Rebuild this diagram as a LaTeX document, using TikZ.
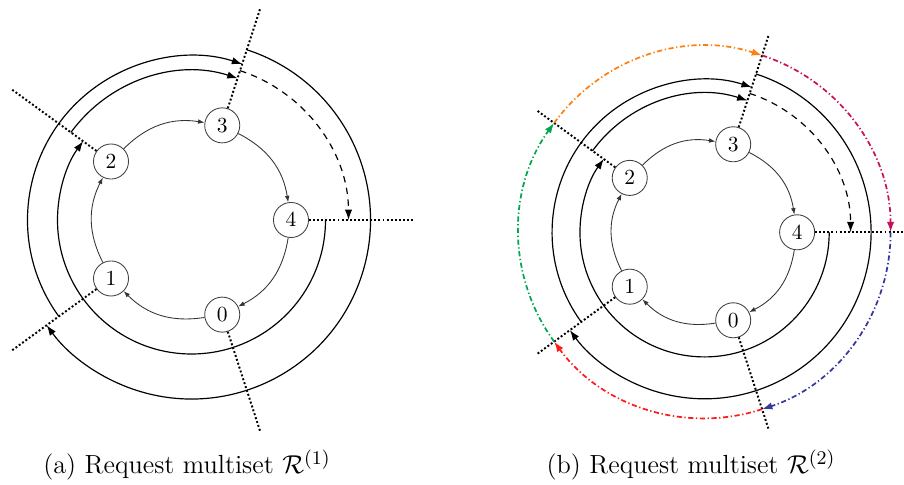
\documentclass[tikz,border=0pt]{standalone}
\usetikzlibrary{arrows.meta}
\definecolor{cOrange}{RGB}{255,127,14}
\definecolor{cPurple}{RGB}{200,16,90}
\definecolor{cBlue}{RGB}{55,55,160}
\definecolor{cRed}{RGB}{255,25,25}
\definecolor{cGreen}{RGB}{0,166,80}
\tikzset{
  ringnode/.style={circle, draw=black!75, line width=0.4pt, minimum size=16.3pt, inner sep=0pt, font=\normalsize},
  ringarc/.style={draw=black!80, line width=0.4pt, -{Latex[length=3pt,width=2.2pt]}},
  bigarc/.style={draw=black, line width=0.55pt, -{Latex[length=4.8pt,width=3.4pt]}},
  dotline/.style={draw=black, line width=0.9pt, densely dotted},
  dasharc/.style={bigarc, dash pattern=on 3pt off 2.5pt},
  colarc/.style={line width=0.8pt, dash pattern=on 2.4pt off 1.2pt on 0.6pt off 1.2pt, -{Latex[length=4.8pt,width=3.4pt]}},
  captext/.style={font=\fontsize{12.2}{14}\selectfont, inner sep=0pt}
}
\newcommand\ringdiagram[1]{%
  \foreach \k in {0,...,4} {
    \node[ringnode] (#1n\k) at ({288-72*\k}:99.5) {$\k$};
    \coordinate (#1o\k) at ({288-72*\k}:222);
    \draw[dotline] (#1n\k) -- (#1o\k);
  }
  \draw[ringarc] (#1n4) to[bend left=27] (#1n0);
  \draw[ringarc] (#1n0) to[bend left=27] (#1n1);
  \draw[ringarc] (#1n1) to[bend left=27] (#1n2);
  \draw[ringarc] (#1n2) to[bend left=27] (#1n3);
  \draw[ringarc] (#1n3) to[bend left=27] (#1n4);
  \coordinate (#1sA) at (0:134);
  \coordinate (#1sB) at (144:149);
  \coordinate (#1sE) at (72:157);
  \coordinate (#1sD) at (216:164);
  \coordinate (#1sC) at (72:179);
  \draw[bigarc] (#1sA) arc[start angle=0, end angle=-216, radius=134];
  \draw[bigarc] (#1sB) arc[start angle=144, end angle=72, radius=149];
  \draw[dasharc] (#1sE) arc[start angle=72, end angle=0, radius=157];
  \draw[bigarc] (#1sD) arc[start angle=216, end angle=72, radius=164];
  \draw[bigarc] (#1sC) arc[start angle=72, end angle=-144, radius=179];
}
\begin{document}
\begin{tikzpicture}[x=0.465pt, y=0.465pt]
  \useasboundingbox (0,0) rectangle (904,485);
  \begin{scope}[shift={(191.5,265)}]
    \ringdiagram{L}
  \end{scope}
  \begin{scope}[shift={(704.6,252.7)}, scale=0.93]
    \ringdiagram{R}
    \coordinate (Rc1) at (144:200);
    \coordinate (Rc2) at (72:200);
    \coordinate (Rc3) at (0:200);
    \coordinate (Rc4) at (-72:200);
    \coordinate (Rc5) at (-144:200);
    \draw[colarc, cOrange] (Rc1) arc[start angle=144, end angle=72, radius=200];
    \draw[colarc, cPurple] (Rc2) arc[start angle=72, end angle=0, radius=200];
    \draw[colarc, cBlue] (Rc3) arc[start angle=0, end angle=-72, radius=200];
    \draw[colarc, cRed] (Rc4) arc[start angle=-72, end angle=-144, radius=200];
    \draw[colarc, cGreen] (Rc5) arc[start angle=-144, end angle=-216, radius=200];
  \end{scope}
  \node[captext] (capa) at (187,20) {(a) Request multiset $\mathcal{R}^{(1)}$};
  \node[captext] (capb) at (691,20) {(b) Request multiset $\mathcal{R}^{(2)}$};
\end{tikzpicture}
\end{document}
